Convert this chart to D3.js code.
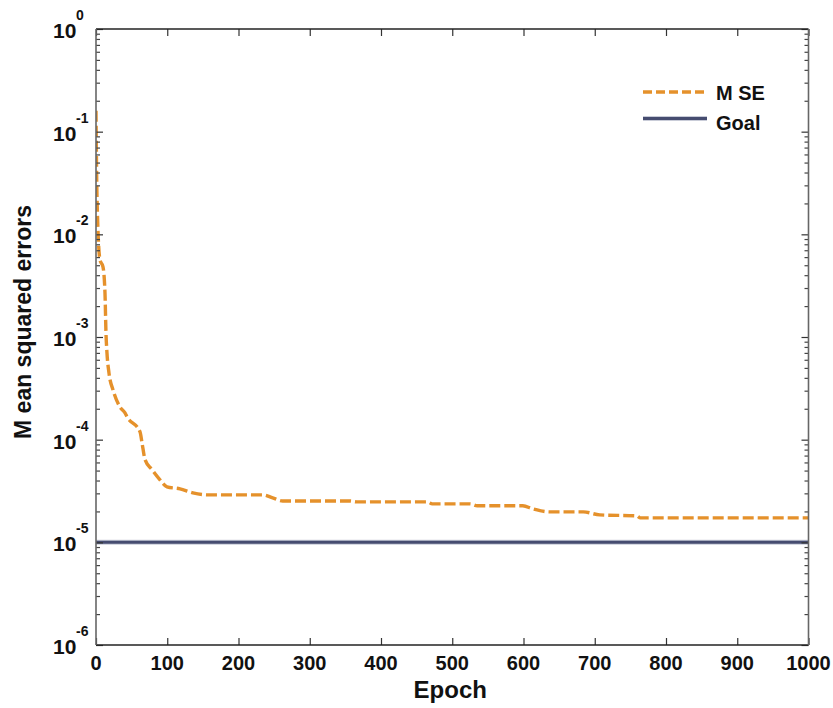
<!DOCTYPE html>
<html>
<head>
<meta charset="utf-8">
<script src="https://cdn.jsdelivr.net/npm/d3@7"></script>
<style>
  html, body { margin: 0; padding: 0; background: #fff; }
  svg { display: block; font-family: "Liberation Sans", Arial, sans-serif; }
</style>
</head>
<body>
<svg id="chart" width="833" height="708"></svg>
<script>
// ---- data ----
const epochs = [0, 1, 2, 5.6, 9.8, 12.6, 14, 15.4, 18.2, 23.9, 33.7, 40.7, 43.5, 61.8, 64.6, 68.8, 78.6, 89.8, 99.6, 117.9, 136, 156, 234, 248, 262, 356, 366, 465, 472, 525, 535, 599, 613, 637, 684, 707, 759, 764, 1000];
const mse = [0.16, 0.034, 0.0161, 0.00563, 0.00482, 0.00269, 0.0011, 0.0007, 0.000447, 0.000305, 0.000208, 0.000182, 0.000167, 0.000119, 9.3e-5, 6.4e-5, 5.1e-5, 4.06e-5, 3.47e-5, 3.32e-5, 3.03e-5, 2.9e-5, 2.9e-5, 2.71e-5, 2.53e-5, 2.53e-5, 2.48e-5, 2.48e-5, 2.37e-5, 2.37e-5, 2.27e-5, 2.27e-5, 2.12e-5, 1.98e-5, 1.98e-5, 1.85e-5, 1.81e-5, 1.73e-5, 1.73e-5];
const goal = 1e-5;
const xTicks = [0, 100, 200, 300, 400, 500, 600, 700, 800, 900, 1000];
const yMajor = [1, 1e-1, 1e-2, 1e-3, 1e-4, 1e-5, 1e-6];
const yExponents = ["0", "-1", "-2", "-3", "-4", "-5", "-6"];
const legendLabels = ["M SE", "Goal"];
const xTitle = "Epoch";
const yTitle = "M ean squared errors";

// ---- layout ----
const L = 96, R = 808.5, T = 29, B = 645;
const svg = d3.select("#chart");
const x = d3.scaleLinear().domain([0, 1000]).range([L, R]);
const y = d3.scaleLog().domain([1e-6, 1]).range([B, T]);

const orange = "#E5912B", navy = "#464C70";

// minor ticks
const yMinor = [];
for (let e = -6; e < 0; e++) for (let k = 2; k <= 9; k++) yMinor.push(k * Math.pow(10, e));

// clip
svg.append("clipPath").attr("id", "clip").append("rect")
  .attr("x", L).attr("y", T).attr("width", R - L).attr("height", B - T);

// goal line
svg.append("line")
  .attr("x1", x(0)).attr("x2", x(1000)).attr("y1", y(goal)).attr("y2", y(goal))
  .attr("stroke", "#c9ccd8").attr("stroke-width", 5);
svg.append("line")
  .attr("x1", x(0)).attr("x2", x(1000)).attr("y1", y(goal)).attr("y2", y(goal))
  .attr("stroke", navy).attr("stroke-width", 3);

// MSE curve
const pts = epochs.map((e, i) => [e, mse[i]]);
const line = d3.line().x(d => x(d[0])).y(d => y(d[1])).curve(d3.curveMonotoneX);
svg.append("path").datum(pts)
  .attr("clip-path", "url(#clip)")
  .attr("d", line).attr("fill", "none")
  .attr("stroke", orange).attr("stroke-width", 3.4)
  .attr("stroke-dasharray", "11,4");

// axes
function styleAxis(g, color) {
  g.select(".domain").remove();
  g.selectAll("line").attr("stroke", color).attr("stroke-width", 1.2);
}
// left major + minor
svg.append("g").attr("transform", `translate(${L},0)`)
  .call(d3.axisLeft(y).tickValues(yMajor).tickSize(-7).tickFormat(""))
  .call(g => styleAxis(g, "#333"));
svg.append("g").attr("transform", `translate(${L},0)`)
  .call(d3.axisLeft(y).tickValues(yMinor).tickSize(-4).tickFormat(""))
  .call(g => styleAxis(g, "#444"));
// right
svg.append("g").attr("transform", `translate(${R},0)`)
  .call(d3.axisRight(y).tickValues(yMajor).tickSize(-7).tickFormat(""))
  .call(g => styleAxis(g, "#333"));
svg.append("g").attr("transform", `translate(${R},0)`)
  .call(d3.axisRight(y).tickValues(yMinor).tickSize(-4).tickFormat(""))
  .call(g => styleAxis(g, "#444"));
// bottom / top
svg.append("g").attr("transform", `translate(0,${B})`)
  .call(d3.axisBottom(x).tickValues(xTicks).tickSize(-7).tickFormat(""))
  .call(g => styleAxis(g, "#333"));
svg.append("g").attr("transform", `translate(0,${T})`)
  .call(d3.axisTop(x).tickValues(xTicks).tickSize(-7).tickFormat(""))
  .call(g => styleAxis(g, "#333"));

// frame
svg.append("line").attr("x1", L).attr("x2", R).attr("y1", B).attr("y2", B).attr("stroke", "#222").attr("stroke-width", 1.6);
svg.append("line").attr("x1", L).attr("x2", R).attr("y1", T).attr("y2", T).attr("stroke", "#222").attr("stroke-width", 1.4);
svg.append("line").attr("x1", L).attr("x2", L).attr("y1", T).attr("y2", B).attr("stroke", "#666").attr("stroke-width", 1.6);
svg.append("line").attr("x1", R).attr("x2", R).attr("y1", T).attr("y2", B).attr("stroke", "#666").attr("stroke-width", 1.6);

// x tick labels
svg.append("g").selectAll("text").data(xTicks).join("text")
  .attr("x", d => x(d)).attr("y", 670)
  .attr("text-anchor", "middle").attr("font-size", 20).attr("font-weight", "bold")
  .attr("fill", "#111").text(d => d);

// y tick labels
const yl = svg.append("g").selectAll("g").data(yMajor).join("g");
yl.append("text").attr("x", 53).attr("y", d => y(d) + 9)
  .attr("font-size", 21).attr("font-weight", "bold").attr("fill", "#111").text("10");
yl.append("text").attr("x", 76).attr("y", (d) => y(d) - 9)
  .attr("font-size", 14).attr("font-weight", "bold").attr("fill", "#111")
  .text((d, i) => yExponents[i]);

// titles
svg.append("text").attr("x", (L + R) / 2 - 2).attr("y", 698)
  .attr("text-anchor", "middle").attr("font-size", 24).attr("font-weight", "bold")
  .attr("fill", "#111").text(xTitle);
svg.append("text").attr("transform", `translate(31,${(T + B) / 2 - 15}) rotate(-90)`)
  .attr("text-anchor", "middle").attr("font-size", 23).attr("font-weight", "bold")
  .attr("fill", "#111").text(yTitle);

// legend
const lg = svg.append("g");
lg.append("line").attr("x1", 643).attr("x2", 705).attr("y1", 92).attr("y2", 92)
  .attr("stroke", orange).attr("stroke-width", 3.4).attr("stroke-dasharray", "9,4");
lg.append("line").attr("x1", 643).attr("x2", 707).attr("y1", 118.5).attr("y2", 118.5)
  .attr("stroke", "#c9ccd8").attr("stroke-width", 5);
lg.append("line").attr("x1", 643).attr("x2", 707).attr("y1", 118.5).attr("y2", 118.5)
  .attr("stroke", navy).attr("stroke-width", 3);
lg.append("text").attr("x", 716).attr("y", 100).attr("font-size", 20).attr("font-weight", "bold")
  .attr("fill", "#111").text(legendLabels[0]);
lg.append("text").attr("x", 716).attr("y", 130).attr("font-size", 20).attr("font-weight", "bold")
  .attr("fill", "#111").text(legendLabels[1]);
</script>
</body>
</html>
